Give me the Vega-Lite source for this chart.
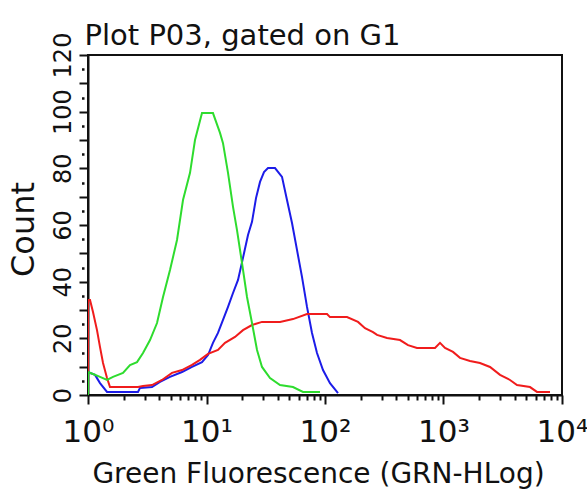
{
  "$schema": "https://vega.github.io/schema/vega-lite/v6.json",
  "width": 474,
  "height": 340,
  "autosize": "none",
  "padding": {"left": 88, "top": 55, "right": 25, "bottom": 95},
  "background": "white",
  "config": {
    "view": {"stroke": "#111111", "strokeWidth": 2},
    "axis": {
      "domainColor": "#111111",
      "domainWidth": 2,
      "tickColor": "#111111",
      "tickWidth": 2,
      "labelColor": "#111111",
      "titleColor": "#111111",
      "labelFont": "DejaVu Sans",
      "titleFont": "DejaVu Sans",
      "titleFontWeight": "normal",
      "grid": false
    }
  },
  "datasets": {
    "curves": [
      {"series": "blue", "i": 0, "x": 1.0, "count": 0},
      {"series": "blue", "i": 1, "x": 1.0, "count": 8.1},
      {"series": "blue", "i": 2, "x": 1.146, "count": 7.1},
      {"series": "blue", "i": 3, "x": 1.263, "count": 4.2},
      {"series": "blue", "i": 4, "x": 1.447, "count": 1.1},
      {"series": "blue", "i": 5, "x": 2.642, "count": 1.1},
      {"series": "blue", "i": 6, "x": 2.747, "count": 2.5},
      {"series": "blue", "i": 7, "x": 3.468, "count": 2.8},
      {"series": "blue", "i": 8, "x": 4.051, "count": 4.6},
      {"series": "blue", "i": 9, "x": 4.92, "count": 6.4},
      {"series": "blue", "i": 10, "x": 6.213, "count": 8.1},
      {"series": "blue", "i": 11, "x": 7.545, "count": 9.9},
      {"series": "blue", "i": 12, "x": 9.162, "count": 11.6},
      {"series": "blue", "i": 13, "x": 10.3, "count": 14.1},
      {"series": "blue", "i": 14, "x": 11.34, "count": 18.4},
      {"series": "blue", "i": 15, "x": 12.5, "count": 21.9},
      {"series": "blue", "i": 16, "x": 13.78, "count": 26.5},
      {"series": "blue", "i": 17, "x": 15.19, "count": 31.1},
      {"series": "blue", "i": 18, "x": 16.74, "count": 36.0},
      {"series": "blue", "i": 19, "x": 18.45, "count": 40.6},
      {"series": "blue", "i": 20, "x": 20.32, "count": 48.4},
      {"series": "blue", "i": 21, "x": 22.4, "count": 56.5},
      {"series": "blue", "i": 22, "x": 24.21, "count": 61.1},
      {"series": "blue", "i": 23, "x": 26.17, "count": 69.5},
      {"series": "blue", "i": 24, "x": 28.29, "count": 75.2},
      {"series": "blue", "i": 25, "x": 30.57, "count": 78.7},
      {"series": "blue", "i": 26, "x": 33.04, "count": 80.1},
      {"series": "blue", "i": 27, "x": 37.86, "count": 80.1},
      {"series": "blue", "i": 28, "x": 43.37, "count": 77.0},
      {"series": "blue", "i": 29, "x": 47.79, "count": 68.8},
      {"series": "blue", "i": 30, "x": 52.67, "count": 60.7},
      {"series": "blue", "i": 31, "x": 58.03, "count": 51.2},
      {"series": "blue", "i": 32, "x": 63.94, "count": 41.7},
      {"series": "blue", "i": 33, "x": 70.49, "count": 31.1},
      {"series": "blue", "i": 34, "x": 77.68, "count": 21.9},
      {"series": "blue", "i": 35, "x": 85.6, "count": 14.8},
      {"series": "blue", "i": 36, "x": 96.2, "count": 8.8},
      {"series": "blue", "i": 37, "x": 110.2, "count": 4.2},
      {"series": "blue", "i": 38, "x": 128.8, "count": 0.7},

      {"series": "red", "i": 0, "x": 1.0, "count": 0},
      {"series": "red", "i": 1, "x": 1.0, "count": 33.5},
      {"series": "red", "i": 2, "x": 1.04, "count": 33.5},
      {"series": "red", "i": 3, "x": 1.102, "count": 29.3},
      {"series": "red", "i": 4, "x": 1.191, "count": 22.9},
      {"series": "red", "i": 5, "x": 1.263, "count": 16.9},
      {"series": "red", "i": 6, "x": 1.339, "count": 11.3},
      {"series": "red", "i": 7, "x": 1.447, "count": 6.0},
      {"series": "red", "i": 8, "x": 1.533, "count": 2.8},
      {"series": "red", "i": 9, "x": 2.642, "count": 2.8},
      {"series": "red", "i": 10, "x": 2.912, "count": 3.2},
      {"series": "red", "i": 11, "x": 3.468, "count": 3.5},
      {"series": "red", "i": 12, "x": 4.212, "count": 5.3},
      {"series": "red", "i": 13, "x": 5.116, "count": 7.8},
      {"series": "red", "i": 14, "x": 6.213, "count": 8.8},
      {"series": "red", "i": 15, "x": 7.545, "count": 10.6},
      {"series": "red", "i": 16, "x": 8.813, "count": 12.4},
      {"series": "red", "i": 17, "x": 10.3, "count": 14.5},
      {"series": "red", "i": 18, "x": 12.5, "count": 15.9},
      {"series": "red", "i": 19, "x": 14.33, "count": 18.4},
      {"series": "red", "i": 20, "x": 17.4, "count": 20.5},
      {"series": "red", "i": 21, "x": 20.32, "count": 22.9},
      {"series": "red", "i": 22, "x": 24.21, "count": 24.7},
      {"series": "red", "i": 23, "x": 29.4, "count": 25.8},
      {"series": "red", "i": 24, "x": 41.73, "count": 25.8},
      {"series": "red", "i": 25, "x": 53.7, "count": 26.8},
      {"series": "red", "i": 26, "x": 70.49, "count": 28.6},
      {"series": "red", "i": 27, "x": 104.0, "count": 28.6},
      {"series": "red", "i": 28, "x": 110.2, "count": 27.5},
      {"series": "red", "i": 29, "x": 153.4, "count": 27.5},
      {"series": "red", "i": 30, "x": 189.9, "count": 25.8},
      {"series": "red", "i": 31, "x": 217.6, "count": 23.6},
      {"series": "red", "i": 32, "x": 254.2, "count": 22.2},
      {"series": "red", "i": 33, "x": 274.8, "count": 21.2},
      {"series": "red", "i": 34, "x": 333.7, "count": 20.1},
      {"series": "red", "i": 35, "x": 429.5, "count": 19.4},
      {"series": "red", "i": 36, "x": 501.8, "count": 17.6},
      {"series": "red", "i": 37, "x": 597.5, "count": 16.6},
      {"series": "red", "i": 38, "x": 847.9, "count": 16.6},
      {"series": "red", "i": 39, "x": 934.3, "count": 18.4},
      {"series": "red", "i": 40, "x": 1030, "count": 16.6},
      {"series": "red", "i": 41, "x": 1203, "count": 15.2},
      {"series": "red", "i": 42, "x": 1378, "count": 13.1},
      {"series": "red", "i": 43, "x": 1673, "count": 12.0},
      {"series": "red", "i": 44, "x": 2032, "count": 11.3},
      {"series": "red", "i": 45, "x": 2469, "count": 9.9},
      {"series": "red", "i": 46, "x": 2999, "count": 7.1},
      {"series": "red", "i": 47, "x": 3641, "count": 5.3},
      {"series": "red", "i": 48, "x": 4173, "count": 3.5},
      {"series": "red", "i": 49, "x": 5370, "count": 2.8},
      {"series": "red", "i": 50, "x": 6152, "count": 1.1},
      {"series": "red", "i": 51, "x": 7921, "count": 1.1},

      {"series": "green", "i": 0, "x": 1.0, "count": 0},
      {"series": "green", "i": 1, "x": 1.0, "count": 8.1},
      {"series": "green", "i": 2, "x": 1.102, "count": 7.4},
      {"series": "green", "i": 3, "x": 1.263, "count": 6.4},
      {"series": "green", "i": 4, "x": 1.447, "count": 5.3},
      {"series": "green", "i": 5, "x": 1.625, "count": 6.4},
      {"series": "green", "i": 6, "x": 1.974, "count": 7.8},
      {"series": "green", "i": 7, "x": 2.262, "count": 10.6},
      {"series": "green", "i": 8, "x": 2.592, "count": 11.6},
      {"series": "green", "i": 9, "x": 2.912, "count": 14.8},
      {"series": "green", "i": 10, "x": 3.337, "count": 19.4},
      {"series": "green", "i": 11, "x": 3.823, "count": 25.4},
      {"series": "green", "i": 12, "x": 4.296, "count": 34.6},
      {"series": "green", "i": 13, "x": 4.92, "count": 44.1},
      {"series": "green", "i": 14, "x": 5.637, "count": 54.7},
      {"series": "green", "i": 15, "x": 6.335, "count": 68.8},
      {"series": "green", "i": 16, "x": 7.259, "count": 78.4},
      {"series": "green", "i": 17, "x": 7.998, "count": 90.0},
      {"series": "green", "i": 18, "x": 9.162, "count": 99.5},
      {"series": "green", "i": 19, "x": 11.34, "count": 99.5},
      {"series": "green", "i": 20, "x": 13.0, "count": 92.5},
      {"series": "green", "i": 21, "x": 13.78, "count": 88.9},
      {"series": "green", "i": 22, "x": 15.19, "count": 78.4},
      {"series": "green", "i": 23, "x": 16.74, "count": 66.4},
      {"series": "green", "i": 24, "x": 18.09, "count": 58.2},
      {"series": "green", "i": 25, "x": 19.93, "count": 46.6},
      {"series": "green", "i": 26, "x": 21.97, "count": 34.6},
      {"series": "green", "i": 27, "x": 24.21, "count": 25.4},
      {"series": "green", "i": 28, "x": 26.69, "count": 15.9},
      {"series": "green", "i": 29, "x": 29.4, "count": 9.9},
      {"series": "green", "i": 30, "x": 34.36, "count": 6.0},
      {"series": "green", "i": 31, "x": 41.73, "count": 3.5},
      {"series": "green", "i": 32, "x": 53.7, "count": 2.8},
      {"series": "green", "i": 33, "x": 65.2, "count": 1.1},
      {"series": "green", "i": 34, "x": 90.7, "count": 1.1}
    ]
  },
  "data": {"name": "curves"},
  "resolve": {"axis": {"x": "independent", "y": "independent"}},
  "layer": [
    {
      "transform": [{"filter": "datum.series === 'blue'"}],
      "mark": {"type": "line", "color": "#1c1ce8", "strokeWidth": 2, "clip": true},
      "encoding": {
        "x": {
          "field": "x", "type": "quantitative",
          "scale": {"type": "log", "domain": [1, 10000], "nice": false},
          "axis": {
            "orient": "bottom",
            "values": [1, 10, 100, 1000, 10000],
            "labelExpr": "datum.value < 5 ? '10⁰' : datum.value < 50 ? '10¹' : datum.value < 500 ? '10²' : datum.value < 5000 ? '10³' : '10⁴'",
            "tickSize": 9,
            "labelFontSize": 31,
            "labelBaseline": "alphabetic",
            "labelPadding": 37,
            "labelAlign": "center",
            "labelFlush": false,
            "labelOverlap": false,
            "title": "Green Fluorescence (GRN-HLog)",
            "titleFontSize": 28,
            "titleBaseline": "alphabetic",
            "titleX": 230,
            "titleY": 87,
            "titleAnchor": "middle"
          }
        },
        "y": {
          "field": "count", "type": "quantitative",
          "scale": {"domain": [0, 120], "nice": false},
          "axis": {
            "orient": "left",
            "values": [0, 10, 20, 30, 40, 50, 60, 70, 80, 90, 100, 110, 120],
            "labelExpr": "datum.value % 20 === 0 ? datum.label : ''",
            "tickSize": 9,
            "labelAngle": 270,
            "labelAlign": "center",
            "labelBaseline": "alphabetic",
            "labelPadding": 9,
            "labelFontSize": 24,
            "labelFlush": false,
            "labelOverlap": false,
            "title": "Count",
            "titleFontSize": 32,
            "titleAngle": 270,
            "titleBaseline": "alphabetic",
            "titleAlign": "center",
            "titleX": -55,
            "titleY": 174
          }
        },
        "order": {"field": "i", "type": "quantitative"}
      }
    },
    {
      "transform": [{"filter": "datum.series === 'red'"}],
      "mark": {"type": "line", "color": "#f01c1c", "strokeWidth": 2, "clip": true},
      "encoding": {
        "x": {
          "field": "x", "type": "quantitative",
          "scale": {"type": "log", "domain": [1, 10000], "nice": false},
          "axis": {
            "orient": "bottom",
            "values": [2, 3, 4, 5, 6, 7, 8, 9, 20, 30, 40, 50, 60, 70, 80, 90, 200, 300, 400, 500, 600, 700, 800, 900, 2000, 3000, 4000, 5000, 6000, 7000, 8000, 9000],
            "tickSize": 5,
            "labels": false,
            "domain": false,
            "title": null
          }
        },
        "y": {
          "field": "count", "type": "quantitative",
          "scale": {"domain": [0, 120], "nice": false},
          "axis": {
            "orient": "left",
            "values": [5, 15, 25, 35, 45, 55, 65, 75, 85, 95, 105, 115],
            "tickSize": 8,
            "tickWidth": 2.5,
            "tickDash": [0, 4, 2.5, 10],
            "labels": false,
            "domain": false,
            "title": null
          }
        },
        "order": {"field": "i", "type": "quantitative"}
      }
    },
    {
      "transform": [{"filter": "datum.series === 'green'"}],
      "mark": {"type": "line", "color": "#2edc2e", "strokeWidth": 2, "clip": true},
      "encoding": {
        "x": {
          "field": "x", "type": "quantitative",
          "scale": {"type": "log", "domain": [1, 10000], "nice": false},
          "axis": {
            "orient": "top",
            "ticks": false,
            "labels": false,
            "domain": false,
            "title": "Plot P03, gated on G1",
            "titleFontSize": 29,
            "titleAnchor": "start",
            "titleAlign": "left",
            "titleBaseline": "alphabetic",
            "titleX": -4,
            "titleY": -11
          }
        },
        "y": {"field": "count", "type": "quantitative", "scale": {"domain": [0, 120], "nice": false}, "axis": null},
        "order": {"field": "i", "type": "quantitative"}
      }
    }
  ]
}
